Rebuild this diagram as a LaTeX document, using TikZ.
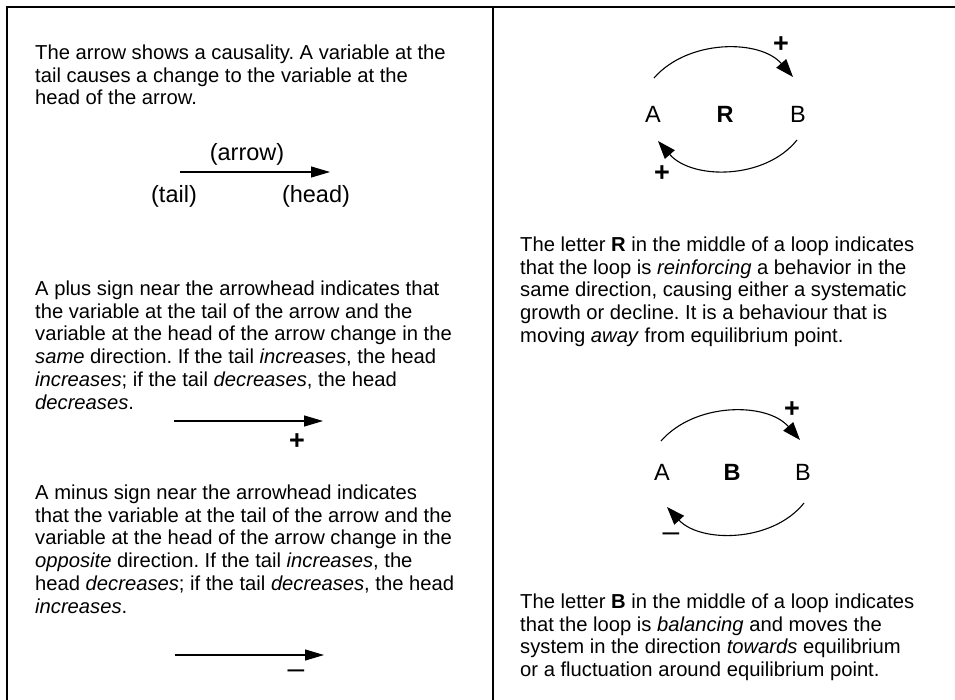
\documentclass[tikz,border=0pt]{standalone}
\usepackage{fontspec}
\setmainfont{Liberation Sans}
\frenchspacing
\usetikzlibrary{arrows.meta}
\begin{document}
\begin{tikzpicture}[x=1pt,y=-1pt,
  frame/.style={line width=1.3pt,black},
  para/.style={anchor=base west,inner sep=0pt,align=left,font=\fontsize{20.2}{22.7}\selectfont},
  lbl/.style={anchor=base,inner sep=0pt,font=\fontsize{23.5}{26}\selectfont},
  sign/.style={anchor=center,inner sep=0pt,font=\fontsize{27}{27}\selectfont},
  msign/.style={anchor=center,inner sep=0pt,font=\fontsize{30}{30}\selectfont},
  causal/.style={line width=1.1pt,-{Triangle[length=19pt,width=11pt]}},
  loopar/.style={line width=1.1pt,-{Triangle[length=18pt,width=13pt]}}]
\useasboundingbox (0,0) rectangle (955,700);
% frame
\coordinate (tl) at (7,7);
\coordinate (tr) at (955,7);
\coordinate (bl) at (7,700);
\coordinate (mt) at (493,7);
\coordinate (mb) at (493,700);
\draw[frame] (bl) -- (tl) -- (tr);
\draw[frame] (mt) -- (mb);

% left column (node base = baseline of last line)
\node[para] (p1) at (35,104.9) {The arrow shows a causality. A variable at the\\tail causes a change to the variable at the\\head of the arrow.};
\node[lbl] (arrowlbl) at (247,161) {(arrow)};
\coordinate (t1) at (180,172);
\coordinate (h1) at (330,172);
\draw[causal] (t1) -- (h1);
\node[lbl] (tail) at (174,203) {(tail)};
\node[lbl] (head) at (316,203) {(head)};

\node[para] (p2) at (35,409) {A plus sign near the arrowhead indicates that\\the variable at the tail of the arrow and the\\variable at the head of the arrow change in the\\\textit{same} direction. If the tail \textit{increases}, the head\\\textit{increases}; if the tail \textit{decreases}, the head\\\textit{decreases}.};
\coordinate (t2) at (174,421);
\coordinate (h2) at (323,421);
\draw[causal] (t2) -- (h2);
\node[sign] (plus2) at (297,442) {\textbf{+}};

\node[para] (p3) at (35,613) {A minus sign near the arrowhead indicates\\that the variable at the tail of the arrow and the\\variable at the head of the arrow change in the\\\textit{opposite} direction. If the tail \textit{increases}, the\\head \textit{decreases}; if the tail \textit{decreases}, the head\\\textit{increases}.};
\coordinate (t3) at (175,655);
\coordinate (h3) at (324,655);
\draw[causal] (t3) -- (h3);
\node[msign] (minus3) at (296,674) {–};

% right column: R loop
\node[lbl] (A1) at (653,123) {A};
\node[lbl] (R1) at (725,123) {\textbf{R}};
\node[lbl] (B1) at (798,123) {B};
\coordinate (a1s) at (654,78);
\coordinate (b1e) at (793,77);
\coordinate (b1s) at (797,140);
\coordinate (a1e) at (658,141);
\draw[loopar] (a1s) .. controls (688,39) and (760,39) .. (b1e);
\draw[loopar] (b1s) .. controls (765,180) and (692,180) .. (a1e);
\node[sign] (plusR1) at (781,45) {\textbf{+}};
\node[sign] (plusR2) at (662,174) {\textbf{+}};

\node[para] (r1) at (520,342.3) {The letter \textbf{R} in the middle of a loop indicates\\that the loop is \textit{reinforcing} a behavior in the\\same direction, causing either a systematic\\growth or decline. It is a behaviour that is\\moving \textit{away} from equilibrium point.};

% B loop
\node[lbl] (A2) at (662,480) {A};
\node[lbl] (Bl) at (732,480) {\textbf{B}};
\node[lbl] (B2) at (803,480) {B};
\coordinate (a2s) at (661,441);
\coordinate (b2e) at (800,440);
\coordinate (b2s) at (804,503);
\coordinate (a2e) at (667,507);
\draw[loopar] (a2s) .. controls (695,402) and (767,402) .. (b2e);
\draw[loopar] (b2s) .. controls (772,543) and (700,543) .. (a2e);
\node[sign] (plusB1) at (792,410) {\textbf{+}};
\node[msign] (minusB) at (671,537) {–};

\node[para] (r2) at (520,676.6) {The letter \textbf{B} in the middle of a loop indicates\\that the loop is \textit{balancing} and moves the\\system in the direction \textit{towards} equilibrium\\or a fluctuation around equilibrium point.};
\end{tikzpicture}
\end{document}
